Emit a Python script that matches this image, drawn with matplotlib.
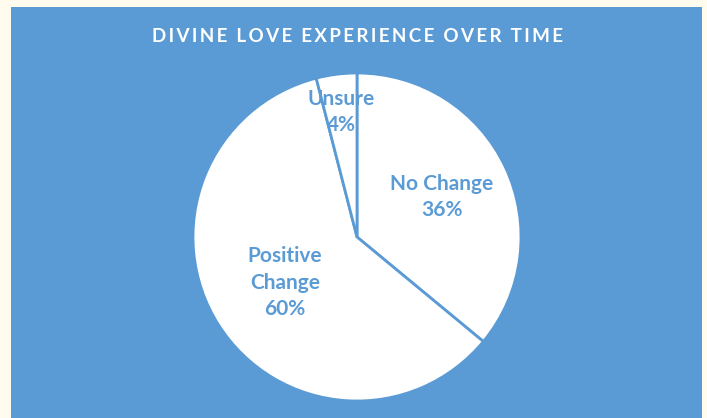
import numpy as np
import matplotlib.pyplot as plt
from matplotlib.patches import Rectangle

categories = ['No Change', 'Positive Change', 'Unsure']
shares = [36, 60, 4]
label_text = ['No Change', 'Positive\nChange', 'Unsure']
title = 'DIVINE LOVE EXPERIENCE OVER TIME'

blue = '#5B9BD5'
cream = '#FFFCEE'

fig = plt.figure(figsize=(7.07, 4.18), dpi=100, facecolor=cream)
fig.patches.append(Rectangle((11 / 707, 0), 691 / 707, 1 - 7 / 418,
                             transform=fig.transFigure, facecolor=blue,
                             edgecolor='none', zorder=-5))

# spread the title letters a little, like the original
spaced = '\u2009'.join(title).replace('\u2009 \u2009', '  ')
fig.text(357 / 707, 1 - 37 / 418, spaced,
         color='white', fontsize=13.5, fontweight='bold', family=['Lato', 'DejaVu Sans'],
         ha='center', va='center')

r = 164
ax = fig.add_axes([(357 - r) / 707, (418 - 237 - r) / 418, 2 * r / 707, 2 * r / 418])
wedges, _ = ax.pie(shares, startangle=90, counterclock=False,
                   colors=['white'] * 3,
                   wedgeprops=dict(edgecolor=blue, linewidth=2.0))
ax.set_xlim(-1, 1)
ax.set_ylim(-1, 1)
ax.axis('off')

dist = [0.57, 0.52, 0.77]
for w, name, pct, d in zip(wedges, label_text, shares, dist):
    mid = np.deg2rad((w.theta1 + w.theta2) / 2)
    ax.text(d * np.cos(mid), d * np.sin(mid), f'{name}\n{pct}%',
            color=blue, fontsize=15, fontweight='bold', family='Lato',
            ha='center', va='center', linespacing=1.4)

fig.savefig('out.png', dpi=100, facecolor=cream)
